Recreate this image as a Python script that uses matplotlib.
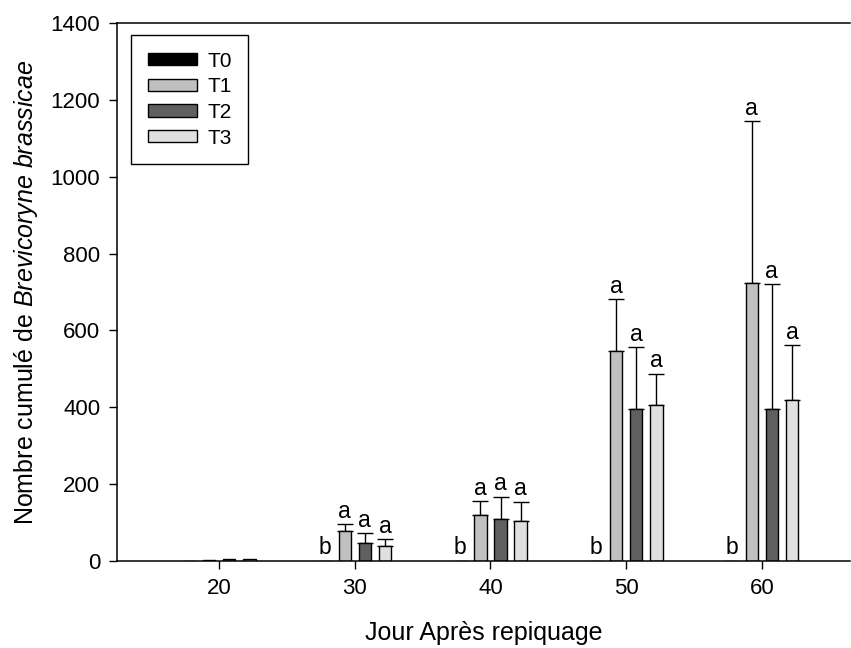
import numpy as np
import matplotlib
matplotlib.use("Agg")
import matplotlib.pyplot as plt

plt.rcParams['font.family'] = ['Liberation Sans', 'DejaVu Sans']
plt.rcParams['mathtext.fontset'] = 'custom'
plt.rcParams['mathtext.rm'] = 'Liberation Sans'
plt.rcParams['mathtext.it'] = 'Liberation Sans:italic'

# data
jours = [20, 30, 40, 50, 60]
traitements = ['T0', 'T1', 'T2', 'T3']
T0 = [1, 1, 1, 1, 1]
T1 = [2, 78, 120, 546, 723]
T2 = [5, 47, 109, 395, 395]
T3 = [4, 39, 104, 406, 419]
err_T0 = [0, 0, 0, 0, 0]
err_T1 = [0, 18, 36, 136, 422]
err_T2 = [0, 26, 58, 162, 326]
err_T3 = [0, 18, 50, 81, 143]
lettres = [['', '', '', ''],
           ['b', 'a', 'a', 'a'],
           ['b', 'a', 'a', 'a'],
           ['b', 'a', 'a', 'a'],
           ['b', 'a', 'a', 'a']]

couleurs = ['#000000', '#c0c0c0', '#606060', '#e0e0e0']
valeurs = [T0, T1, T2, T3]
erreurs = [err_T0, err_T1, err_T2, err_T3]

fig = plt.figure(figsize=(8.51, 6.48), dpi=100)
ax = fig.add_axes([117/851, 1-561/648, (850-117)/851, (561-23)/648])

x = np.array(jours, dtype=float)
pas = 1.48
larg = 0.92
offsets = (np.arange(4) - 1.5) * pas

for i in range(4):
    xi = x + offsets[i]
    ax.bar(xi, valeurs[i], width=larg, color=couleurs[i], edgecolor='black',
           linewidth=1.0, label=traitements[i], zorder=2)
    e = np.array(erreurs[i])
    m = e > 0
    ax.errorbar(xi[m], np.array(valeurs[i])[m], yerr=[np.zeros(m.sum()), e[m]],
                fmt='none', ecolor='black', elinewidth=1.0, capsize=5.8,
                capthick=1.0, zorder=1)
    for j in range(len(jours)):
        lt = lettres[j][i]
        if lt:
            y = valeurs[i][j] + erreurs[i][j]
            ax.annotate(lt, (xi[j], y), xytext=(0, 1), textcoords='offset points',
                        ha='center', va='bottom', fontsize=16.5)

ax.set_xlim(12.47, 66.5)
ax.set_ylim(0, 1400)
ax.set_xticks(jours)
ax.set_yticks(range(0, 1401, 200))
ax.tick_params(direction='out', length=6, width=1, labelsize=16, pad=6)
ax.spines['right'].set_visible(False)
for s in ['left', 'bottom', 'top']:
    ax.spines[s].set_linewidth(1.1)

ax.set_xlabel('Jour Après repiquage', fontsize=18, labelpad=16)
ax.set_ylabel(r'Nombre cumulé de $\mathit{Brevicoryne\ brassicae}$', fontsize=18, labelpad=8)

leg = ax.legend(loc='upper left', bbox_to_anchor=(131/851, 1-35/648),
                bbox_transform=fig.transFigure, fontsize=15, fancybox=False,
                edgecolor='black', framealpha=1, handlelength=2.35,
                handleheight=0.53, labelspacing=0.32, borderpad=0.8,
                handletextpad=0.5, borderaxespad=0)
leg.get_frame().set_linewidth(1.0)

fig.savefig('out.png', dpi=100)
